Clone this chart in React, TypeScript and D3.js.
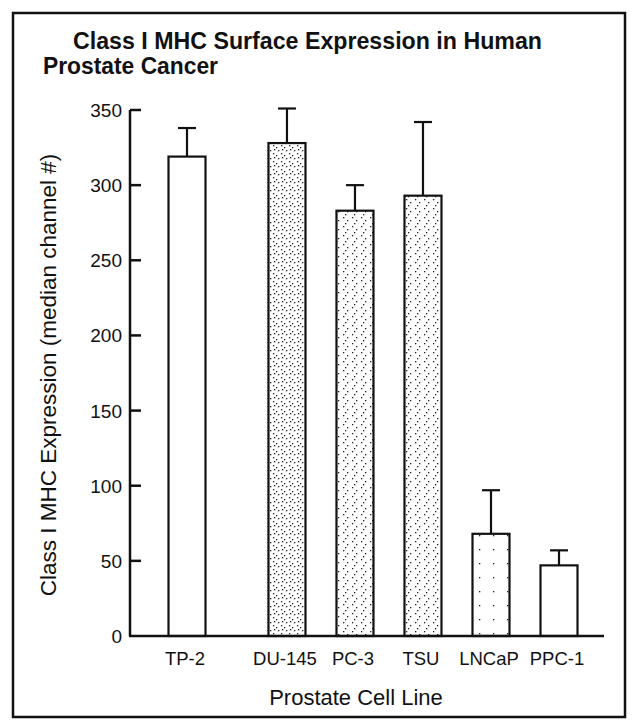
import React from "react";
import * as d3 from "d3";

const categories = ["TP-2", "DU-145", "PC-3", "TSU", "LNCaP", "PPC-1"];
const means = [319, 328, 283, 293, 68, 47];
const errors = [19, 23, 17, 49, 29, 10];
const textures = ["none", "dense", "medium", "medium", "sparse", "faint"];
const yTicks = [0, 50, 100, 150, 200, 250, 300, 350];

const W = 639;
const H = 727;
const FONT = "'Liberation Sans', Arial, Helvetica, sans-serif";

export default function App() {
  const y = d3.scaleLinear().domain([0, 350]).range([636, 110]);
  const gap = 0.47;
  const slot = (i: number) => i + (i > 0 ? gap : 0);
  const x = d3
    .scaleLinear()
    .domain([0, slot(categories.length - 1)])
    .range([187, 559]);
  const barW = 37;
  const capW = 18;

  const dotSets: Record<string, [number, number][]> = {
    dense: [
      [1, 1], [4, 3], [2, 5], [6, 6],
    ],
    medium: [
      [1, 1], [5, 4], [3, 7],
    ],
    sparse: [[3, 3]],
    faint: [],
  };
  const tile: Record<string, number> = { dense: 8, medium: 9, sparse: 14, faint: 20 };

  return (
    <svg
      width={W}
      height={H}
      style={{ position: "absolute", left: 0, top: 0, background: "#fff" }}
      fontFamily={FONT}
    >
      <defs>
        {Object.keys(dotSets).map((k) => (
          <pattern
            key={k}
            id={`pat-${k}`}
            width={tile[k]}
            height={tile[k]}
            patternUnits="userSpaceOnUse"
          >
            <rect width={tile[k]} height={tile[k]} fill="#fff" />
            {dotSets[k].map(([dx, dy], j) => (
              <rect key={j} x={dx} y={dy} width={1.3} height={1.3} fill="#222" />
            ))}
          </pattern>
        ))}
      </defs>

      {/* frame */}
      <rect x={13} y={13} width={612} height={704} fill="none" stroke="#111" strokeWidth={2.5} />

      {/* title */}
      <text x={73} y={49} fontSize={23} fontWeight="bold" fill="#111" textLength={469} lengthAdjust="spacingAndGlyphs">
        Class I MHC Surface Expression in Human
      </text>
      <text x={43} y={74} fontSize={23} fontWeight="bold" fill="#111" textLength={175} lengthAdjust="spacingAndGlyphs">
        Prostate Cancer
      </text>

      {/* bars */}
      {categories.map((c, i) => {
        const cx = x(slot(i));
        const top = y(means[i]);
        const errTop = y(means[i] + errors[i]);
        const tex = textures[i];
        return (
          <g key={c}>
            <line x1={cx} x2={cx} y1={top} y2={errTop} stroke="#111" strokeWidth={2.2} />
            <line x1={cx - capW / 2} x2={cx + capW / 2} y1={errTop} y2={errTop} stroke="#111" strokeWidth={2.2} />
            <rect
              x={cx - barW / 2}
              y={top}
              width={barW}
              height={y(0) - top}
              fill={tex === "none" ? "#fff" : `url(#pat-${tex})`}
              stroke="#111"
              strokeWidth={2.2}
            />
            <text x={cx - 2} y={665} fontSize={18.5} textAnchor="middle" fill="#111">
              {c}
            </text>
          </g>
        );
      })}

      {/* axes */}
      <line x1={130} x2={130} y1={y(350)} y2={y(0)} stroke="#111" strokeWidth={2.5} />
      <line x1={129} x2={604} y1={y(0)} y2={y(0)} stroke="#111" strokeWidth={2.5} />
      {yTicks.map((t) => (
        <g key={t}>
          {t > 0 && <line x1={130} x2={141} y1={y(t)} y2={y(t)} stroke="#111" strokeWidth={2.5} />}
          <text x={122} y={y(t) + 7} fontSize={19} textAnchor="end" fill="#111">
            {t}
          </text>
        </g>
      ))}

      {/* axis titles */}
      <text
        transform={`translate(56, 375) rotate(-90)`}
        fontSize={22.5}
        textAnchor="middle"
        fill="#111"
      >
        Class I MHC Expression (median channel #)
      </text>
      <text x={356} y={705} fontSize={22} textAnchor="middle" fill="#111">
        Prostate Cell Line
      </text>
    </svg>
  );
}
